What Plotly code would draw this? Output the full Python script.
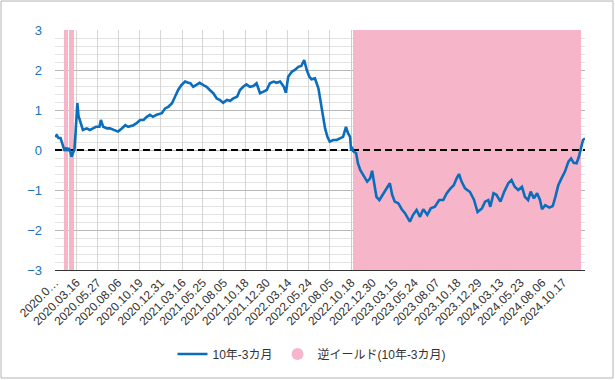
import plotly.graph_objects as go
import pandas as pd

# ---- data ----
dates = [
    "2020-01-02", "2020-01-08", "2020-01-14", "2020-01-21", "2020-01-28", "2020-02-04",
    "2020-02-10", "2020-02-13", "2020-02-18", "2020-02-24", "2020-02-28", "2020-03-04",
    "2020-03-09", "2020-03-13", "2020-03-19", "2020-03-23", "2020-03-27", "2020-04-07",
    "2020-04-20", "2020-05-01", "2020-05-12", "2020-05-22", "2020-06-03", "2020-06-08",
    "2020-06-16", "2020-06-29", "2020-07-09", "2020-07-27", "2020-08-06", "2020-08-19",
    "2020-08-31", "2020-09-10", "2020-09-28", "2020-10-09", "2020-10-21", "2020-11-02",
    "2020-11-13", "2020-11-24", "2020-12-04", "2020-12-17", "2021-01-04", "2021-01-15",
    "2021-01-26", "2021-02-08", "2021-02-18", "2021-03-01", "2021-03-12", "2021-03-25",
    "2021-04-05", "2021-04-12", "2021-04-22", "2021-05-03", "2021-05-14", "2021-05-27",
    "2021-06-07", "2021-06-18", "2021-06-30", "2021-07-12", "2021-07-23", "2021-08-03",
    "2021-08-16", "2021-08-27", "2021-09-07", "2021-09-20", "2021-09-30", "2021-10-11",
    "2021-10-22", "2021-11-03", "2021-11-15", "2021-11-26", "2021-12-08", "2021-12-20",
    "2021-12-31", "2022-01-11", "2022-01-24", "2022-02-03", "2022-02-15", "2022-02-28",
    "2022-03-07", "2022-03-15", "2022-03-28", "2022-04-07", "2022-04-19", "2022-04-29",
    "2022-05-09", "2022-05-18", "2022-05-27", "2022-06-03", "2022-06-15", "2022-06-27",
    "2022-07-06", "2022-07-12", "2022-07-20", "2022-07-28", "2022-08-05", "2022-08-17",
    "2022-08-29", "2022-09-09", "2022-09-20", "2022-09-30", "2022-10-07", "2022-10-14",
    "2022-10-18", "2022-10-20", "2022-10-25", "2022-11-04", "2022-11-10", "2022-11-18",
    "2022-12-01", "2022-12-12", "2022-12-22", "2022-12-29", "2023-01-05", "2023-01-13",
    "2023-01-23", "2023-02-03", "2023-02-17", "2023-02-28", "2023-03-08", "2023-03-17",
    "2023-03-29", "2023-04-10", "2023-04-21", "2023-05-02", "2023-05-08", "2023-05-19",
    "2023-05-31", "2023-06-12", "2023-06-23", "2023-07-07", "2023-07-19", "2023-08-02",
    "2023-08-17", "2023-08-31", "2023-09-12", "2023-09-25", "2023-10-06", "2023-10-16",
    "2023-10-24", "2023-11-02", "2023-11-14", "2023-12-01", "2023-12-15", "2023-12-27",
    "2024-01-11", "2024-01-22", "2024-02-02", "2024-02-09", "2024-02-20", "2024-03-01",
    "2024-03-15", "2024-03-28", "2024-04-11", "2024-04-22", "2024-05-03", "2024-05-15",
    "2024-05-28", "2024-06-07", "2024-06-18", "2024-06-27", "2024-07-08", "2024-07-19",
    "2024-07-29", "2024-08-05", "2024-08-16", "2024-08-30", "2024-09-11", "2024-09-20",
    "2024-09-30", "2024-10-11", "2024-10-23", "2024-11-04", "2024-11-13", "2024-11-22",
    "2024-12-02", "2024-12-10", "2024-12-17", "2024-12-24", "2024-12-31",
]
spread = [
    0.33, 0.37, 0.30, 0.30, 0.14, -0.02,
    0.06, -0.02, 0.05, -0.05, -0.17, -0.04,
    0.02, 0.45, 1.17, 0.85, 0.75, 0.50,
    0.54, 0.50, 0.54, 0.58, 0.58, 0.75,
    0.58, 0.54, 0.54, 0.50, 0.46, 0.54,
    0.62, 0.58, 0.62, 0.67, 0.75, 0.75,
    0.83, 0.88, 0.83, 0.88, 0.92, 1.04,
    1.08, 1.17, 1.33, 1.50, 1.62, 1.71,
    1.68, 1.67, 1.58, 1.62, 1.68, 1.62,
    1.58, 1.50, 1.42, 1.29, 1.25, 1.18,
    1.25, 1.23, 1.29, 1.33, 1.50, 1.58,
    1.64, 1.58, 1.60, 1.67, 1.42, 1.46,
    1.50, 1.67, 1.71, 1.68, 1.71, 1.58,
    1.43, 1.83, 1.96, 2.00, 2.08, 2.10,
    2.25, 2.00, 1.83, 1.77, 1.79, 1.54,
    1.17, 0.83, 0.54, 0.33, 0.21, 0.25,
    0.25, 0.29, 0.33, 0.58, 0.42, 0.33,
    -0.02, 0.08, -0.03, -0.08, -0.33, -0.50,
    -0.67, -0.79, -0.71, -0.52, -0.83, -1.17,
    -1.25, -1.12, -0.96, -0.83, -1.12, -1.29,
    -1.33, -1.48, -1.58, -1.71, -1.79, -1.62,
    -1.50, -1.67, -1.48, -1.62, -1.46, -1.42,
    -1.25, -1.25, -1.08, -0.96, -0.88, -0.71,
    -0.60, -0.79, -0.96, -1.05, -1.25, -1.55,
    -1.46, -1.29, -1.25, -1.42, -1.08, -1.12,
    -1.29, -1.04, -0.83, -0.75, -0.92, -1.00,
    -0.92, -1.17, -1.25, -1.04, -1.21, -1.08,
    -1.25, -1.48, -1.38, -1.44, -1.40, -1.17,
    -0.88, -0.71, -0.54, -0.29, -0.21, -0.32,
    -0.33, -0.17, 0.08, 0.25, 0.29,
]

# inverted-yield periods (start, end)
inv_start = ["2020-02-02", "2020-02-11", "2020-02-19", "2022-10-18", "2022-10-24"]
inv_end = ["2020-02-07", "2020-02-14", "2020-03-06", "2022-10-19", "2024-12-16"]

tick_dates = [
    "2020-01-02", "2020-03-16", "2020-05-27", "2020-08-06", "2020-10-19", "2020-12-31",
    "2021-03-16", "2021-05-25", "2021-08-05", "2021-10-18", "2021-12-30", "2022-03-14",
    "2022-05-24", "2022-08-05", "2022-10-18", "2022-12-30", "2023-03-15", "2023-05-24",
    "2023-08-07", "2023-10-18", "2023-12-29", "2024-03-13", "2024-05-23", "2024-08-06",
    "2024-10-17",
]
tick_text = ["2020.0…"] + [d.replace("-", ".") for d in tick_dates[1:]]

x_start = "2020-01-02"
x_end = "2024-12-31"

line_name = "10年-3カ月"
inv_name = "逆イールド(10年-3カ月)"

BLUE = "#0a6ebd"
PINK = "#f7b5c9"
FONT = "Liberation Sans, Arial, Noto Sans CJK JP, sans-serif"

# ---- bars for inversion periods ----
s = pd.to_datetime(inv_start)
e = pd.to_datetime(inv_end) + pd.Timedelta(days=1)
centers = s + (e - s) / 2
widths = [(b - a).total_seconds() * 1000 for a, b in zip(s, e)]

fig = go.Figure()
fig.add_trace(go.Bar(
    x=centers, y=[6] * len(centers), base=[-3] * len(centers), width=widths,
    marker=dict(color=PINK, line=dict(width=0)), showlegend=False, hoverinfo="skip",
))
fig.add_trace(go.Scatter(
    x=[x_start, x_end], y=[0, 0], mode="lines",
    line=dict(color="black", width=2, dash="7px,4px"), showlegend=False, hoverinfo="skip",
))
fig.add_trace(go.Scatter(
    x=dates, y=spread, mode="lines", name=line_name,
    line=dict(color=BLUE, width=2.6),
))
fig.add_trace(go.Scatter(
    x=[None], y=[None], mode="markers", name=inv_name,
    marker=dict(color=PINK, size=12, symbol="circle"),
))

L, R, T, B = 55, 30, 30, 110
W, H = 615, 380
pw, ph = W - L - R, H - T - B

fig.update_layout(
    width=W, height=H,
    margin=dict(l=L, r=R, t=T, b=B),
    paper_bgcolor="white", plot_bgcolor="white",
    font=dict(family=FONT, size=12, color="#333333"),
    bargap=0,
    showlegend=True,
    legend=dict(orientation="h", x=(312 - L) / pw, xanchor="center",
                y=(H - B - 354) / ph, yanchor="middle",
                font=dict(size=12, color="#333333"), itemwidth=30),
    shapes=[dict(type="rect", xref="paper", yref="paper",
                 x0=(1 - L) / pw, x1=(613 - L) / pw,
                 y0=(H - B - 378) / ph, y1=(H - B - 1) / ph,
                 line=dict(color="#b4b4b4", width=1), fillcolor="rgba(0,0,0,0)",
                 layer="below")],
)
fig.update_xaxes(
    type="date", range=[x_start, x_end],
    tickvals=tick_dates, ticktext=tick_text, tickangle=-45,
    tickfont=dict(size=12, color="#333333"),
    showgrid=True, gridcolor="#d6d6d6", gridwidth=1,
    showline=True, linecolor="#333333", linewidth=1,
    ticks="", zeroline=False,
)
fig.update_yaxes(
    range=[-3, 3], dtick=1, tickvals=[-3, -2, -1, 0, 1, 2, 3],
    tickfont=dict(size=13, color="#1a6fc4"),
    showgrid=True, gridcolor="#b8b8b8", gridwidth=1,
    minor=dict(dtick=0.2, showgrid=True, gridcolor="#e2e2e2", gridwidth=1),
    zeroline=False, ticks="", ticklabelstandoff=12,
)

fig.write_html("out.html", config={"displayModeBar": False},
               post_script="document.body.style.margin='0';")
